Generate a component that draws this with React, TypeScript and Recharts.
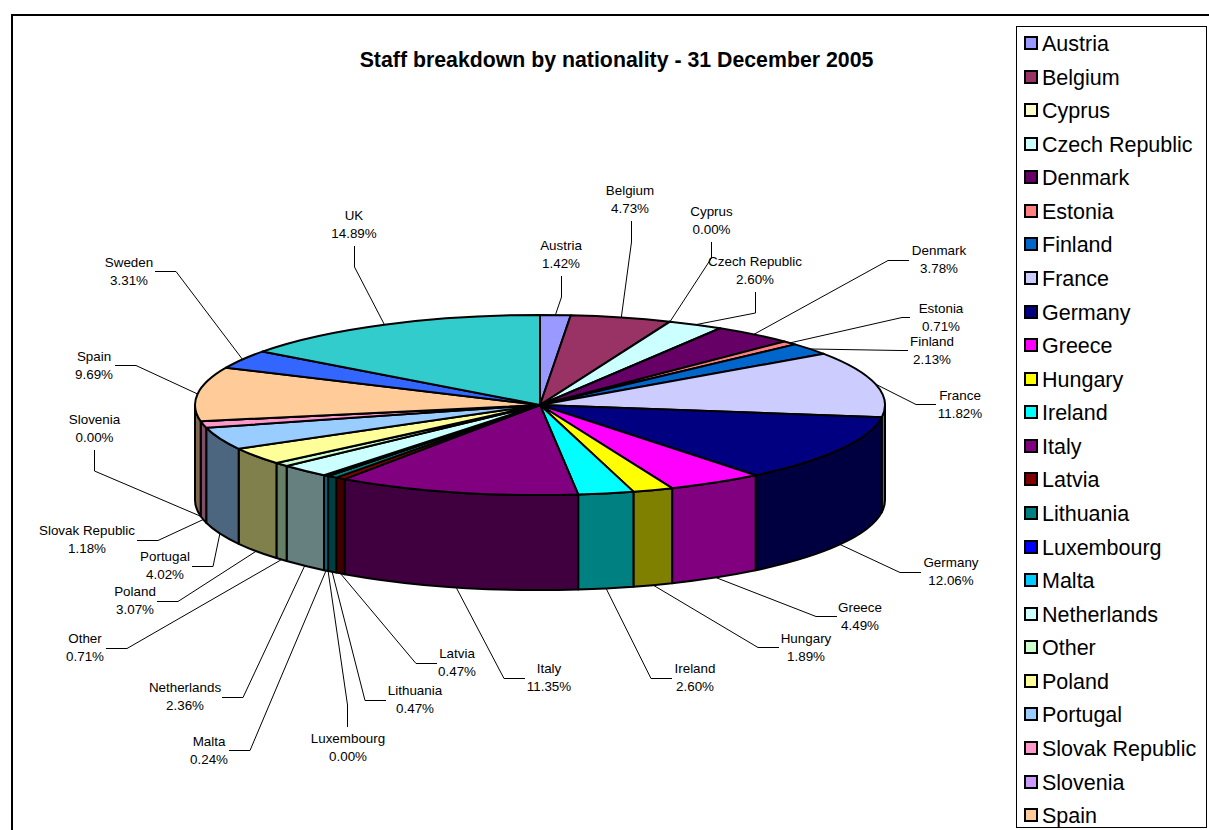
import React from "react";
import { PieChart, Pie, Legend } from "recharts";

const countries = ["Austria","Belgium","Cyprus","Czech Republic","Denmark","Estonia","Finland","France","Germany","Greece","Hungary","Ireland","Italy","Latvia","Lithuania","Luxembourg","Malta","Netherlands","Other","Poland","Portugal","Slovak Republic","Slovenia","Spain","Sweden","UK"];
const shares = [1.42,4.73,0,2.6,3.78,0.71,2.13,11.82,12.06,4.49,1.89,2.6,11.35,0.47,0.47,0,0.24,2.36,0.71,3.07,4.02,1.18,0,9.69,3.31,14.89];
const topColors = ["#9999FF","#993366","#FFFFCC","#CCFFFF","#660066","#FF8080","#0066CC","#CCCCFF","#000080","#FF00FF","#FFFF00","#00FFFF","#800080","#800000","#008080","#0000FF","#00CCFF","#CCFFFF","#CCFFCC","#FFFF99","#99CCFF","#FF99CC","#CC99FF","#FFCC99","#3366FF","#33CCCC"];

// Layout of the data labels: text centre, then the leader's bends, outermost first.
type Spot = { x: number; y: number; bends: [number, number][] };
const labelSpots: Spot[] = [
  { x: 561, y: 245, bends: [[561.5, 276], [561.5, 297]] },
  { x: 630, y: 190, bends: [[631.5, 221], [631.5, 242]] },
  { x: 711.5, y: 211.5, bends: [[711.5, 242], [711.5, 258]] },
  { x: 755, y: 261, bends: [[755.5, 292], [755.5, 313]] },
  { x: 939, y: 250, bends: [[909, 260.5], [888, 260.5]] },
  { x: 941, y: 308, bends: [[910, 317.5], [902, 317.5]] },
  { x: 932, y: 341, bends: [[908, 350.5], [900, 350.5]] },
  { x: 960, y: 395, bends: [[936, 404.5], [916, 404.5]] },
  { x: 951, y: 562, bends: [[921, 572.5], [900, 572.5]] },
  { x: 860, y: 607, bends: [[837, 616.5], [816, 616.5]] },
  { x: 806, y: 638, bends: [[779, 647.5], [758, 647.5]] },
  { x: 695, y: 668, bends: [[672, 678.5], [651, 678.5]] },
  { x: 549, y: 668, bends: [[525, 678.5], [504, 678.5]] },
  { x: 457, y: 653, bends: [[437, 663.5], [416, 663.5]] },
  { x: 415, y: 690, bends: [[386, 700.5], [365, 700.5]] },
  { x: 348, y: 738, bends: [[347.5, 727], [347.5, 705]] },
  { x: 209, y: 741, bends: [[229, 750.5], [250, 750.5]] },
  { x: 185, y: 687, bends: [[222, 697.5], [243, 697.5]] },
  { x: 85, y: 638, bends: [[106, 648.5], [127, 648.5]] },
  { x: 135, y: 591, bends: [[157, 601.5], [178, 601.5]] },
  { x: 165, y: 556, bends: [[192, 566.5], [213, 566.5]] },
  { x: 87, y: 530, bends: [[137, 540.5], [158, 540.5]] },
  { x: 94.5, y: 419, bends: [[94.5, 450], [94.5, 471]] },
  { x: 94, y: 356, bends: [[115, 365.5], [136, 365.5]] },
  { x: 129, y: 262, bends: [[155, 271.5], [176, 271.5]] },
  { x: 354, y: 215, bends: [[354.5, 246], [354.5, 267]] },
];

const rows = countries.map((name, i) => ({ name, value: shares[i], fill: topColors[i] }));

const SANS = "'Liberation Sans', Arial, sans-serif";
const SQUASH = 90 / 345;
const DEPTH = 95;
const rad = (d: number) => (d * Math.PI) / 180;

function halve(hex: string) {
  const n = parseInt(hex.slice(1), 16);
  const c = (v: number) => Math.round(v / 2).toString(16).padStart(2, "0");
  return "#" + c((n >> 16) & 255) + c((n >> 8) & 255) + c(n & 255);
}

function SliceShape(props: any) {
  const { cx, cy, outerRadius, startAngle, endAngle, fill } = props;
  const rx = outerRadius;
  const ry = outerRadius * SQUASH;
  const s = 90 - startAngle;
  const e = 90 - endAngle;
  const pt = (t: number, dy = 0) => `${cx + rx * Math.sin(rad(t))} ${cy - ry * Math.cos(rad(t)) + dy}`;
  const a = Math.max(s, 90);
  const b = Math.min(e, 270);
  const large = e - s > 180 ? 1 : 0;
  return (
    <g>
      {b > a && (
        <path
          d={`M${pt(a)} A${rx} ${ry} 0 0 1 ${pt(b)} L${pt(b, DEPTH)} A${rx} ${ry} 0 0 0 ${pt(a, DEPTH)} Z`}
          fill={halve(fill)}
          stroke="#000"
          strokeWidth={2}
          strokeLinejoin="round"
        />
      )}
      <path
        d={`M${cx} ${cy} L${pt(s)} A${rx} ${ry} 0 ${large} 1 ${pt(e)} Z`}
        fill={fill}
        stroke="#000"
        strokeWidth={2}
        strokeLinejoin="round"
      />
    </g>
  );
}

function SliceLabel(props: any) {
  const { cx, cy, outerRadius, midAngle, index, name, value } = props;
  const spot = labelSpots[index];
  const t = 90 - midAngle;
  const rx = outerRadius;
  const ry = outerRadius * SQUASH;
  const norm = ((t % 360) + 360) % 360;
  const edgeX = cx + rx * Math.sin(rad(norm));
  const edgeY = cy - ry * Math.cos(rad(norm)) + (norm > 90 && norm < 270 ? DEPTH : 0);
  const pts = [...spot.bends, [edgeX, edgeY]].map((p) => p.join(",")).join(" ");
  return (
    <g>
      <polyline points={pts} fill="none" stroke="#000" strokeWidth={1} />
      <text x={spot.x} y={spot.y + 4.5} textAnchor="middle" fontFamily={SANS} fontSize={13.4} fill="#000">
        {name}
      </text>
      <text x={spot.x} y={spot.y + 22.8} textAnchor="middle" fontFamily={SANS} fontSize={13.4} fill="#000">
        {value.toFixed(2) + "%"}
      </text>
    </g>
  );
}

function LegendBox(props: any) {
  const items = (props.payload || []).slice(0, 24);
  return (
    <div style={{ position: "relative", width: 189, height: 800, border: "1px solid #000", background: "#fff", overflow: "hidden" }}>
      {items.map((it: any, i: number) => (
        <div key={it.value} style={{ position: "absolute", left: 0, top: 16 + 33.57 * i, height: 0 }}>
          <span style={{ position: "absolute", left: 7, top: -7, width: 10, height: 10, border: "2px solid #000", background: it.color, boxSizing: "content-box" }} />
          <span style={{ position: "absolute", left: 25, top: -13, lineHeight: "28px", fontFamily: SANS, fontSize: 21.5, color: "#000", whiteSpace: "nowrap" }}>
            {it.value}
          </span>
        </div>
      ))}
    </div>
  );
}

export default function App() {
  return (
    <div style={{ position: "absolute", left: 0, top: 0, width: 1209, height: 830, overflow: "hidden", background: "#fff" }}>
      <div style={{ position: "absolute", left: 11, top: 14, right: 0, bottom: 0, borderTop: "2px solid #000", borderLeft: "2px solid #000" }} />
      <PieChart width={1209} height={830} margin={{ top: 0, right: 0, bottom: 0, left: 0 }}>
        <text x={616.5} y={67} textAnchor="middle" fontFamily={SANS} fontWeight="bold" fontSize={21.3} fill="#000">
          Staff breakdown by nationality - 31 December 2005
        </text>
        <Pie
          data={rows}
          dataKey="value"
          nameKey="name"
          cx={540}
          cy={405}
          innerRadius={0}
          outerRadius={345}
          startAngle={90}
          endAngle={-270}
          paddingAngle={0}
          isAnimationActive={false}
          shape={SliceShape}
          label={SliceLabel}
          labelLine={false}
        />
        <Legend
          content={LegendBox}
          layout="vertical"
          align="right"
          verticalAlign="top"
          wrapperStyle={{ position: "absolute", left: 1016, top: 26, width: 191, height: 802, margin: 0, padding: 0 }}
        />
      </PieChart>
    </div>
  );
}
